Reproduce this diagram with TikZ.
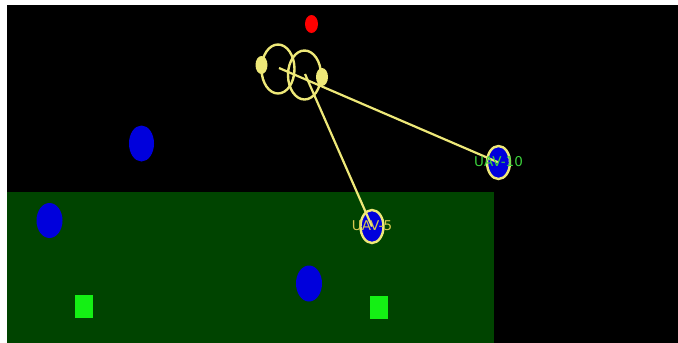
\documentclass[tikz,border=0pt]{standalone}
\usepackage{fontspec}
\setmainfont{DejaVu Sans}
\definecolor{bgzone}{RGB}{0,68,0}
\definecolor{uavblue}{RGB}{0,0,220}
\definecolor{yel}{RGB}{238,232,120}
\definecolor{lime}{RGB}{20,240,20}
\definecolor{lblgreen}{RGB}{60,210,60}
\definecolor{lblyel}{RGB}{215,200,80}
\tikzset{
  blob/.style={ellipse, fill=uavblue, draw=none, inner sep=0pt},
  uav/.style={ellipse, fill=uavblue, draw=yel, line width=2.4pt, inner sep=0pt, minimum width=23pt, minimum height=33pt},
  target/.style={rectangle, fill=lime, draw=none, inner sep=0pt, minimum width=18pt, minimum height=23pt},
  ring/.style={ellipse, draw=yel, line width=2.4pt, inner sep=0pt, minimum width=33pt, minimum height=49pt},
  dot/.style={ellipse, fill=yel, draw=none, inner sep=0pt, minimum width=12pt, minimum height=18pt},
  link/.style={draw=yel, line width=2.2pt},
  lbl/.style={font=\fontsize{13.5}{14}\selectfont, inner sep=0pt}
}
\usetikzlibrary{shapes.geometric}
\begin{document}
\begin{tikzpicture}[x=1pt,y=-1pt]
\useasboundingbox (0,0) rectangle (678,343);
\fill[white] (0,0) rectangle (678,343);
\fill[black] (7,5) rectangle (678,343);
\fill[bgzone] (7,192) rectangle (494,343);
% plain blue objects
\node[blob, minimum width=25pt, minimum height=36pt] (b1) at (141.5,143.5) {};
\node[blob, minimum width=26pt, minimum height=35pt] (b2) at (49.5,220.5) {};
\node[blob, minimum width=26pt, minimum height=36pt] (b3) at (309,283.5) {};
% targets
\node[target] (t1) at (84,306.5) {};
\node[target] (t2) at (379,307) {};
% red object
\node[ellipse, fill=red, inner sep=0pt, minimum width=13pt, minimum height=18pt] (r) at (311.5,24) {};
% rings
\node[ring] (ra) at (278,69) {};
\node[ring] (rb) at (304.5,75) {};
\node[dot] (da) at (261.5,65) {};
\node[dot] (db) at (322,77) {};
% UAVs
\node[uav] (u10) at (498.5,162.5) {};
\node[uav] (u5) at (372,226.5) {};
\coordinate (ca) at (279,68);
\coordinate (cb) at (305,74);
\draw[link] (ca) -- (u10.center);
\draw[link] (cb) -- (u5.center);
\node[lbl, text=lblgreen] (l10) at (498.5,162) {UAV-10};
\node[lbl, text=lblyel] (l5) at (372,226) {UAV-5};
\end{tikzpicture}
\end{document}
